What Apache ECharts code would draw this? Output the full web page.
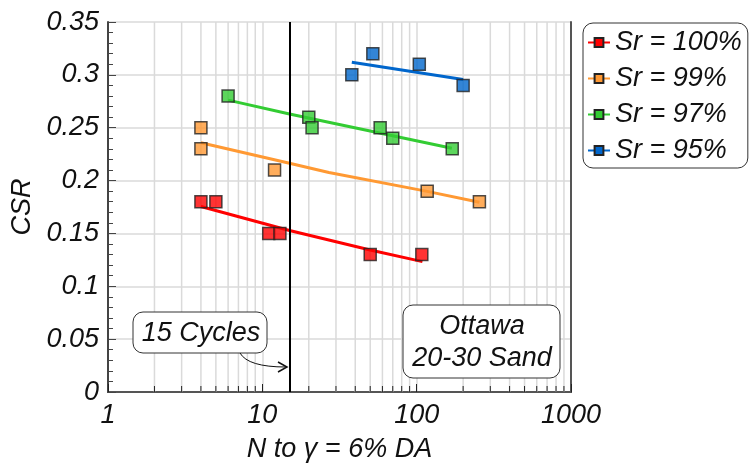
<!DOCTYPE html>
<html>
<head>
<meta charset="utf-8">
<script src="https://cdn.jsdelivr.net/npm/echarts@6/dist/echarts.min.js"></script>
<style>html,body{margin:0;padding:0;background:#fff;}#c{width:750px;height:466px;}</style>
</head>
<body>
<div id="c"></div>
<script>
// ---- data ----
const seriesNames = ['Sr = 100%', 'Sr = 99%', 'Sr = 97%', 'Sr = 95%'];
const n100 = [4, 5, 11, 13, 50, 108];
const csr100 = [0.18, 0.18, 0.15, 0.15, 0.13, 0.13];
const n99 = [4, 4, 12, 117, 255];
const csr99 = [0.25, 0.23, 0.21, 0.19, 0.18];
const n97 = [6, 20, 21, 58, 70, 170];
const csr97 = [0.28, 0.26, 0.25, 0.25, 0.24, 0.23];
const n95 = [38, 52, 104, 200];
const csr95 = [0.30, 0.32, 0.31, 0.29];

// trend lines
const trend100N = [4, 15, 50, 109];
const trend100 = [0.1755, 0.1528, 0.1343, 0.1233];
const trend99N = [4, 15, 27, 117, 255];
const trend99 = [0.2358, 0.2164, 0.2076, 0.1898, 0.1795];
const trend97N = [6, 15, 169];
const trend97 = [0.2761, 0.263, 0.2306];
const trend95N = [38, 200];
const trend95 = [0.312, 0.2957];

const cycleLineN = 15;
const minorGridN = [2, 3, 4, 5, 6, 7, 8, 9, 20, 30, 40, 50, 60, 70, 80, 90, 200, 300, 400, 500, 600, 700, 800, 900];
const xAxisTitle = 'N to γ = 6% DA';
const yAxisTitle = 'CSR';
const annotation1 = '15 Cycles';
const annotation2 = 'Ottawa\n20-30 Sand';

const colors = ['#ff0000', '#ff9933', '#33cc33', '#0066cc'];
const FONT = "'Liberation Sans', Arial, sans-serif";
const FS = 27;

const zip = (a, b) => a.map((v, i) => [v, b[i]]);
const pts = [zip(n100, csr100), zip(n99, csr99), zip(n97, csr97), zip(n95, csr95)];
const trends = [zip(trend100N, trend100), zip(trend99N, trend99), zip(trend97N, trend97), zip(trend95N, trend95)];

const series = [];
series.push({
  type: 'custom', silent: true, z: 1,
  data: minorGridN.map(v => [v, 0]),
  encode: { x: 0, y: 1 },
  renderItem: function (params, api) {
    const v = api.value(0);
    const p0 = api.coord([v, 0]);
    const p1 = api.coord([v, 0.35]);
    return {
      type: 'group', children: [
        { type: 'line', shape: { x1: p0[0], y1: p0[1], x2: p1[0], y2: p1[1] }, style: { stroke: '#dadada', lineWidth: 1.5 } },
        { type: 'line', shape: { x1: p0[0], y1: p0[1], x2: p0[0], y2: p0[1] - 6 }, style: { stroke: '#222', lineWidth: 1 } }
      ]
    };
  }
});
series.push({
  type: 'line', data: [], silent: true, z: 3,
  markLine: {
    silent: true, symbol: 'none', label: { show: false },
    lineStyle: { color: '#000', width: 2, type: 'solid' },
    data: [{ xAxis: cycleLineN }]
  }
});
seriesNames.forEach((name, i) => {
  series.push({
    name: name, type: 'line', data: trends[i], z: 4,
    symbol: 'rect', showSymbol: false, symbolSize: 12,
    lineStyle: { color: colors[i], width: 3 },
    itemStyle: { color: colors[i], borderColor: '#222', borderWidth: 1 },
    emphasis: { disabled: true }
  });
});
seriesNames.forEach((name, i) => {
  series.push({
    name: name, type: 'scatter', data: pts[i], z: 5,
    symbol: 'rect', symbolSize: 12,
    itemStyle: { color: colors[i], borderColor: '#222', borderWidth: 1.5 },
    emphasis: { disabled: true }
  });
});

const chart = echarts.init(document.getElementById('c'), null, { renderer: 'canvas' });
chart.setOption({
  animation: false,
  backgroundColor: '#fff',
  grid: { left: 108, right: 179, top: 22, bottom: 74, containLabel: false, outerBoundsMode: 'none' },
  xAxis: [{
    type: 'log', logBase: 10, min: 1, max: 1000,
    name: xAxisTitle, nameLocation: 'middle', nameGap: 44,
    nameTextStyle: { fontFamily: FONT, fontStyle: 'italic', fontSize: FS, color: '#111' },
    axisLine: { lineStyle: { color: '#111', width: 2 } },
    axisTick: { show: true, inside: true, length: 8, lineStyle: { color: '#222' } },
    axisLabel: { fontFamily: FONT, fontStyle: 'italic', fontSize: FS, color: '#111', margin: 10, formatter: v => String(v) },
    splitLine: { show: true, lineStyle: { color: '#dadada', width: 1.5 } }
  }, {
    type: 'log', logBase: 10, min: 1, max: 1000, position: 'top',
    axisLine: { show: true, lineStyle: { color: '#555', width: 2 } },
    axisTick: { show: false }, axisLabel: { show: false }, splitLine: { show: false }
  }],
  yAxis: [{
    type: 'value', min: 0, max: 0.35, interval: 0.05,
    name: yAxisTitle, nameLocation: 'middle', nameGap: 70,
    nameTextStyle: { fontFamily: FONT, fontStyle: 'italic', fontSize: FS, color: '#111' },
    axisLine: { show: true, lineStyle: { color: '#444', width: 2 } },
    axisTick: { show: true, inside: true, length: 8, lineStyle: { color: '#444' } },
    minorTick: { show: true, splitNumber: 5, length: 5, lineStyle: { color: '#444' } },
    axisLabel: { fontFamily: FONT, fontStyle: 'italic', fontSize: FS, color: '#111', margin: 9 },
    splitLine: { show: true, lineStyle: { color: '#dadada', width: 1.5 } }
  }, {
    type: 'value', min: 0, max: 0.35, interval: 0.05, position: 'right',
    axisLine: { show: true, lineStyle: { color: '#555', width: 2 } },
    axisTick: { show: false }, axisLabel: { show: false }, splitLine: { show: false }
  }],
  legend: {
    data: seriesNames,
    orient: 'vertical', left: 583, top: 23,
    padding: [6, 6, 4, 4],
    itemGap: 9, itemWidth: 22, itemHeight: 11,
    borderColor: '#333', borderWidth: 1, borderRadius: 10,
    selectedMode: false,
    textStyle: { fontFamily: FONT, fontStyle: 'italic', fontSize: FS, color: '#111', lineHeight: 27 }
  },
  graphic: [
    { type: 'rect', shape: { x: 133, y: 312, width: 134, height: 41, r: 10 }, style: { fill: '#fff', stroke: '#333', lineWidth: 1 }, z: 10 },
    { type: 'text', x: 201, y: 333, style: { text: annotation1, fontFamily: FONT, fontStyle: 'italic', fontSize: FS, fill: '#111', align: 'center', verticalAlign: 'middle' }, z: 11 },
    { type: 'rect', shape: { x: 403, y: 305, width: 157, height: 73, r: 10 }, style: { fill: '#fff', stroke: '#333', lineWidth: 1 }, z: 10 },
    { type: 'text', x: 482, y: 342, style: { text: annotation2, fontFamily: FONT, fontStyle: 'italic', fontSize: FS, lineHeight: 32, fill: '#111', align: 'center', verticalAlign: 'middle' }, z: 11 },
    { type: 'bezierCurve', shape: { x1: 240, y1: 353, cpx1: 248, cpy1: 367, x2: 286, y2: 367 }, style: { stroke: '#111', lineWidth: 1, fill: null }, z: 11 },
    { type: 'polyline', shape: { points: [[278, 362], [287, 367], [278, 372]] }, style: { stroke: '#111', lineWidth: 1.5, fill: null }, z: 11 }
  ],
  series: series
});
</script>
</body>
</html>
